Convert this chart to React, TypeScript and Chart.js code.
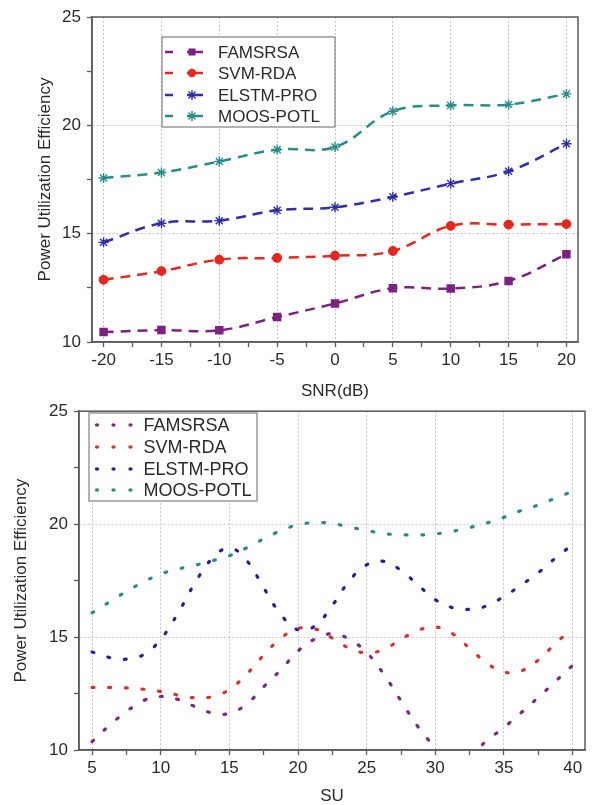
import React, { useEffect, useRef } from "react";
import { Chart, registerables } from "chart.js";

Chart.register(...registerables);

// ---------- data ----------
const seriesNames = ["FAMSRSA", "SVM-RDA", "ELSTM-PRO", "MOOS-POTL"];

// top chart: SNR (dB)
const snr = [-20, -15, -10, -5, 0, 5, 10, 15, 20];
const famsrsaSnr = [10.46, 10.55, 10.54, 11.15, 11.78, 12.48, 12.47, 12.82, 14.05];
const svmRdaSnr = [12.87, 13.27, 13.8, 13.88, 13.98, 14.2, 15.36, 15.42, 15.44];
const elstmProSnr = [14.6, 15.48, 15.6, 16.08, 16.22, 16.7, 17.31, 17.88, 19.15];
const moosPotlSnr = [17.57, 17.82, 18.33, 18.88, 19.0, 20.65, 20.92, 20.96, 21.45];

// bottom chart: SU
const su = [5, 6.25, 7.5, 8.75, 10, 11.25, 12.5, 13.75, 15, 16.25, 17.5, 18.75, 20, 21.25, 22.5, 23.75, 25, 26.25, 27.5, 28.75, 30, 31.25, 32.5, 33.75, 35, 36.25, 37.5, 38.75, 40];
const famsrsaSu = [10.37, 11.08, 11.7, 12.19, 12.37, 12.24, 11.92, 11.64, 11.62, 12.03, 12.8, 13.55, 14.38, 14.92, 15.15, 14.9, 14.32, 13.35, 12.18, 11.02, 10.15, 9.65, 9.75, 10.42, 11.0, 11.65, 12.33, 13.04, 13.75];
const svmRdaSu = [12.77, 12.77, 12.75, 12.69, 12.59, 12.43, 12.31, 12.36, 12.68, 13.35, 14.2, 14.95, 15.38, 15.36, 14.95, 14.5, 14.3, 14.45, 14.9, 15.3, 15.45, 15.15, 14.5, 13.85, 13.45, 13.5, 13.98, 14.72, 15.4];
const elstmProSu = [14.34, 14.1, 14.02, 14.22, 14.9, 16.05, 17.4, 18.48, 18.95, 18.4, 17.18, 16.0, 15.32, 15.5, 16.4, 17.5, 18.2, 18.35, 17.95, 17.3, 16.65, 16.3, 16.23, 16.38, 16.8, 17.3, 17.85, 18.5, 19.1];
const moosPotlSu = [16.07, 16.55, 17.02, 17.44, 17.79, 18.01, 18.18, 18.38, 18.6, 18.95, 19.35, 19.71, 19.97, 20.07, 20.03, 19.87, 19.72, 19.58, 19.53, 19.52, 19.57, 19.68, 19.85, 20.05, 20.3, 20.6, 20.85, 21.15, 21.45];

// ticks
const snrTicks = [-20, -17.5, -15, -12.5, -10, -7.5, -5, -2.5, 0, 2.5, 5, 7.5, 10, 12.5, 15, 17.5, 20];
const suTicks = [5, 7.5, 10, 12.5, 15, 17.5, 20, 22.5, 25, 27.5, 30, 32.5, 35, 37.5, 40];
const pueTicks = [10, 12.5, 15, 17.5, 20, 22.5, 25];

// ---------- styling ----------
const FONT = "'Liberation Sans', Arial, Helvetica, sans-serif";
const TEXT = "#2a2a2a";
const AXIS = "#5a5a5a";
const topColors = ["#7b2280", "#e4281f", "#2e2ea8", "#2b8b8b"];
const topMarkers = ["rect", "circle", "star", "star"];
const topRadius = [5, 4.2, 5, 5];
const botColors = ["#7a2a80", "#d8322a", "#22229a", "#2a8a84"];

const isMajor = (v: number) => Math.abs(v / 5 - Math.round(v / 5)) < 1e-6;

function drawMarker(ctx: CanvasRenderingContext2D, style: string, x: number, y: number, r: number, color: string) {
  ctx.save();
  ctx.fillStyle = color;
  ctx.strokeStyle = color;
  ctx.setLineDash([]);
  ctx.lineWidth = 1.4;
  if (style === "rect") {
    const s = r * Math.SQRT1_2;
    ctx.fillRect(x - s, y - s, 2 * s, 2 * s);
  } else if (style === "circle") {
    ctx.beginPath();
    ctx.arc(x, y, r, 0, Math.PI * 2);
    ctx.fill();
  } else {
    ctx.beginPath();
    for (let k = 0; k < 4; k++) {
      const a = (k * Math.PI) / 4;
      ctx.moveTo(x - Math.cos(a) * r, y - Math.sin(a) * r);
      ctx.lineTo(x + Math.cos(a) * r, y + Math.sin(a) * r);
    }
    ctx.stroke();
  }
  ctx.restore();
}

const frameLegendPlugin = {
  id: "frameLegend",
  afterDraw(chart: any, _args: any, opts: any) {
    const { ctx, chartArea } = chart;
    ctx.save();
    // frame around plot
    ctx.strokeStyle = AXIS;
    ctx.lineWidth = 1.5;
    ctx.setLineDash([]);
    ctx.strokeRect(chartArea.left, chartArea.top, chartArea.right - chartArea.left, chartArea.bottom - chartArea.top);
    // legend
    const [bx, by, bw, bh] = opts.box;
    ctx.fillStyle = "#ffffff";
    ctx.fillRect(bx, by, bw, bh);
    ctx.strokeStyle = "#808080";
    ctx.lineWidth = 1.2;
    ctx.strokeRect(bx, by, bw, bh);
    chart.data.datasets.forEach((ds: any, i: number) => {
      const y = opts.rows[i];
      const color = ds.borderColor;
      if (opts.kind === "marker") {
        ctx.strokeStyle = color;
        ctx.lineWidth = 2.5;
        ctx.setLineDash([]);
        ctx.beginPath();
        ctx.moveTo(opts.sample[0], y);
        ctx.lineTo(opts.sample[1], y);
        ctx.moveTo(opts.sample[2], y);
        ctx.lineTo(opts.sample[3], y);
        ctx.stroke();
        drawMarker(ctx, ds.pointStyle, opts.markerX, y, ds.pointRadius, color);
      } else {
        ctx.fillStyle = color;
        opts.dots.forEach((dx: number) => {
          ctx.beginPath();
          ctx.ellipse(dx, y, 2.2, 1.7, 0, 0, Math.PI * 2);
          ctx.fill();
        });
      }
      ctx.fillStyle = TEXT;
      ctx.font = `${opts.fontSize}px ${FONT}`;
      ctx.textBaseline = "middle";
      ctx.textAlign = "left";
      ctx.fillText(ds.label, opts.textX, y + 1);
    });
    ctx.restore();
  },
};

function axisOptions(ticks: number[], min: number, max: number, width: number | null, height: number | null, title: string, titlePad: number, tickPad: number) {
  return {
    type: "linear",
    min,
    max,
    afterBuildTicks: (scale: any) => {
      scale.ticks = ticks.map((v) => ({ value: v }));
    },
    afterFit: (scale: any) => {
      if (width !== null) scale.width = width;
      if (height !== null) scale.height = height;
    },
    ticks: {
      autoSkip: false,
      maxRotation: 0,
      padding: tickPad,
      color: TEXT,
      font: { family: FONT, size: 17 },
      callback: (v: any) => (isMajor(Number(v)) ? String(v) : ""),
    },
    grid: {
      color: (ctx: any) => (ctx.tick && isMajor(ctx.tick.value) ? "#c4c4c4" : "rgba(0,0,0,0)"),
      lineWidth: 1,
      tickColor: AXIS,
      tickLength: 5,
      tickWidth: 1.3,
    },
    border: { display: true, color: AXIS, width: 1.5, dash: [2, 2] },
    title: {
      display: true,
      text: title,
      color: TEXT,
      font: { family: FONT, size: 17, lineHeight: 1 },
      padding: { top: titlePad, bottom: 0 },
    },
  };
}

export default function App() {
  const topRef = useRef<HTMLCanvasElement>(null);
  const botRef = useRef<HTMLCanvasElement>(null);

  useEffect(() => {
    const topSeries = [famsrsaSnr, svmRdaSnr, elstmProSnr, moosPotlSnr];
    const top = new Chart(topRef.current as HTMLCanvasElement, {
      type: "line",
      data: {
        datasets: topSeries.map((vals, i) => ({
          label: seriesNames[i],
          data: snr.map((x, k) => ({ x, y: vals[k] })),
          borderColor: topColors[i],
          backgroundColor: topColors[i],
          borderWidth: 2.5,
          borderDash: [10, 7],
          tension: 0.4,
          pointStyle: topMarkers[i],
          pointRadius: topRadius[i],
          pointBorderWidth: 1.4,
          pointBackgroundColor: topColors[i],
          pointBorderColor: topColors[i],
        })),
      },
      options: {
        animation: false,
        responsive: false,
        devicePixelRatio: 1,
        layout: { padding: { left: 0, top: 17, right: 16, bottom: 0 } },
        scales: {
          x: axisOptions(snrTicks, -21, 21, null, 58, "SNR(dB)", 3.5, 3),
          y: axisOptions(pueTicks, 10, 25, 92, null, "Power Utilization Efficiency", 36.5, 6),
        },
        plugins: {
          legend: { display: false },
          tooltip: { enabled: false },
          frameLegend: {
            kind: "marker",
            box: [162, 37, 173, 90],
            rows: [52, 73, 95, 116],
            sample: [165, 173, 187, 203],
            markerX: 192,
            textX: 218,
            fontSize: 17,
          },
        },
      } as any,
      plugins: [frameLegendPlugin],
    } as any);

    const botSeries = [famsrsaSu, svmRdaSu, elstmProSu, moosPotlSu];
    const bot = new Chart(botRef.current as HTMLCanvasElement, {
      type: "line",
      data: {
        datasets: botSeries.map((vals, i) => ({
          label: seriesNames[i],
          data: su.map((x, k) => ({ x, y: vals[k] })),
          borderColor: botColors[i],
          backgroundColor: botColors[i],
          borderWidth: 3.2,
          borderDash: [1.8, 14.9],
          borderCapStyle: "round",
          tension: 0.4,
          pointRadius: 0,
        })),
      },
      options: {
        animation: false,
        responsive: false,
        devicePixelRatio: 1,
        layout: { padding: { left: 0, top: 15, right: 9, bottom: 0 } },
        scales: {
          x: axisOptions(suTicks, 4.05, 40.9, null, 55, "SU", 4.5, 3),
          y: axisOptions(pueTicks, 10, 25, 79, null, "Power Utilization Efficiency", 12.5, 6),
        },
        plugins: {
          legend: { display: false },
          tooltip: { enabled: false },
          frameLegend: {
            kind: "dots",
            box: [89, 18, 168, 88],
            rows: [30, 52, 74, 95],
            dots: [97, 113.5, 130.5],
            textX: 143.5,
            fontSize: 18,
          },
        },
      } as any,
      plugins: [frameLegendPlugin],
    } as any);

    return () => {
      top.destroy();
      bot.destroy();
    };
  }, []);

  return (
    <div style={{ position: "absolute", left: 0, top: 0, width: 594, height: 805, background: "#ffffff", overflow: "hidden" }}>
      <canvas ref={topRef} width={594} height={400} style={{ position: "absolute", left: 0, top: 0, width: 594, height: 400 }} />
      <canvas ref={botRef} width={594} height={410} style={{ position: "absolute", left: 0, top: 395, width: 594, height: 410 }} />
    </div>
  );
}
